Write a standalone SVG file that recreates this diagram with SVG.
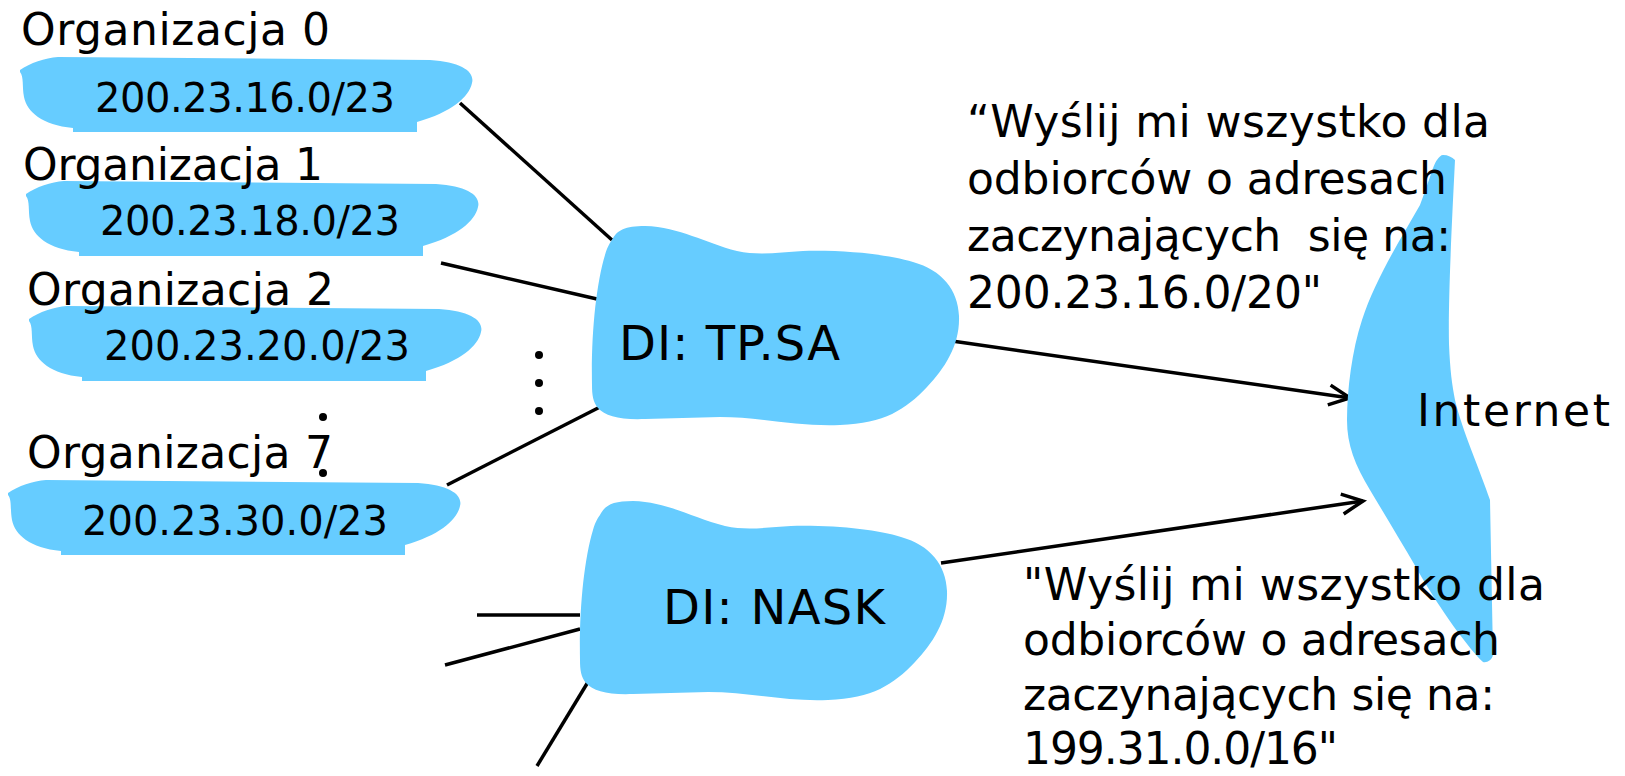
<svg xmlns="http://www.w3.org/2000/svg" width="1625" height="776" viewBox="0 0 1625 776">
  <style>
    text { font-family: "DejaVu Sans", "Open Sans", sans-serif; fill: #000; }
    .blob { fill: #66CCFF; stroke: none; }
    .org { font-size: 44px; }
    .net { font-size: 40px; }
    .isp { font-size: 48px; }
    .note { font-size: 44px; }
    .link { stroke: #000; stroke-width: 3.5; fill: none; }
    .dot { fill: #000; }
  </style>
  <defs>
    <!-- brush-stroke shape behind each organisation prefix -->
    <path id="orgBlob" d="M 20,70 C 30,63 45,58 58,57 L 430,60 C 462,62 475,72 472,83 C 469,97 452,112 417,122 L 417,132 L 73,132 L 73,128 C 42,125 27,112 24,97 C 22,86 24,77 20,72 Z"/>
    <!-- cloud shape of a provider network -->
    <path id="ispCloud" d="M 612,240 C 617,230 625,226 645,226 C 680,227 705,243 737,251 C 760,256 780,252 803,251 C 850,250 890,255 913,262 C 942,270 958,290 959,316 C 960,345 945,368 927,387 C 905,410 885,423 840,425 C 800,427 760,417 720,417 L 645,419 C 620,420 605,416 598,408 C 593,402 592,395 592,385 C 591,335 596,285 605,255 C 607,248 609,244 612,240 Z"/>
    <marker id="openArrow" markerUnits="userSpaceOnUse" markerWidth="30" markerHeight="30" viewBox="-25 -15 30 30" refX="0" refY="0" orient="auto">
      <path d="M -21,-10 L 0,0 L -21,10" fill="none" stroke="#000" stroke-width="3.5" stroke-linejoin="miter"/>
    </marker>
  </defs>

  <!-- connectors -->
  <g id="connectors">
    <line class="link" x1="460" y1="103" x2="612" y2="240"/>
    <line class="link" x1="441" y1="263" x2="597" y2="299"/>
    <line class="link" x1="447" y1="485" x2="600" y2="407"/>
    <line class="link" x1="477" y1="615" x2="580" y2="615"/>
    <line class="link" x1="445" y1="665" x2="580" y2="629"/>
    <line class="link" x1="537" y1="766" x2="588" y2="682"/>
    <line class="link" x1="952" y1="341" x2="1350" y2="398" marker-end="url(#openArrow)"/>
    <line class="link" x1="941" y1="563" x2="1363" y2="501" marker-end="url(#openArrow)"/>
  </g>

  <!-- organisations: brush stroke first, labels on top -->
  <g id="org0">
    <use href="#orgBlob" class="blob"/>
    <text class="org" x="21" y="45" textLength="309">Organizacja 0</text>
    <text class="net" x="95" y="112" textLength="300">200.23.16.0/23</text>
  </g>
  <g id="org1">
    <use href="#orgBlob" class="blob" transform="translate(6,124)"/>
    <text class="org" x="23" y="180" textLength="300">Organizacja 1</text>
    <text class="net" x="100" y="235" textLength="300">200.23.18.0/23</text>
  </g>
  <g id="org2">
    <use href="#orgBlob" class="blob" transform="translate(9,249)"/>
    <text class="org" x="27" y="305" textLength="307">Organizacja 2</text>
    <text class="net" x="104" y="360" textLength="306">200.23.20.0/23</text>
  </g>
  <g id="org7">
    <use href="#orgBlob" class="blob" transform="translate(-12,423)"/>
    <text class="org" x="27" y="468" textLength="306">Organizacja 7</text>
    <circle class="dot" cx="323" cy="417" r="4"/>
    <circle class="dot" cx="323" cy="473" r="4"/>
    <text class="net" x="82" y="535" textLength="306">200.23.30.0/23</text>
  </g>

  <!-- vertical ellipsis between organisations -->
  <g id="ellipsis">
    <circle class="dot" cx="539" cy="355" r="4"/>
    <circle class="dot" cx="539" cy="383" r="4"/>
    <circle class="dot" cx="539" cy="411" r="4"/>
  </g>

  <!-- providers -->
  <g id="isp-tpsa">
    <use href="#ispCloud" class="blob"/>
    <text class="isp" x="619" y="360" textLength="221">DI: TP.SA</text>
  </g>
  <g id="isp-nask">
    <use href="#ispCloud" class="blob" transform="translate(-12,275)"/>
    <text class="isp" x="663" y="624" textLength="222">DI: NASK</text>
  </g>

  <!-- internet -->
  <g id="internet">
    <path class="blob" d="M 1443,155 C 1448,155 1452,157 1455,160 C 1452,220 1448,300 1449,344 C 1450,370 1452,385 1455,400 C 1462,430 1480,470 1490,500 L 1493,655 C 1492,660 1487,663 1483,662 C 1470,650 1440,610 1417,569 C 1400,540 1385,515 1370,490 C 1355,465 1347,445 1347,420 C 1347,390 1352,350 1362,320 C 1375,280 1400,240 1420,205 C 1428,185 1433,165 1437,160 C 1439,157 1441,155 1443,155 Z"/>
    <text class="org" x="1417" y="426" textLength="193">Internet</text>
  </g>

  <!-- route advertisements -->
  <g id="note-tpsa">
    <text class="note" x="967" y="137" textLength="523">“Wyślij mi wszystko dla</text>
    <text class="note" x="967" y="194" textLength="480">odbiorców o adresach</text>
    <text class="note" x="967" y="251" textLength="484" xml:space="preserve">zaczynających  się na:</text>
    <text class="note" x="967" y="308" textLength="355">200.23.16.0/20"</text>
  </g>
  <g id="note-nask">
    <text class="note" x="1023" y="600" textLength="522">"Wyślij mi wszystko dla</text>
    <text class="note" x="1023" y="655" textLength="477">odbiorców o adresach</text>
    <text class="note" x="1023" y="710" textLength="472">zaczynających się na:</text>
    <text class="note" x="1023" y="764" textLength="315">199.31.0.0/16"</text>
  </g>
</svg>
